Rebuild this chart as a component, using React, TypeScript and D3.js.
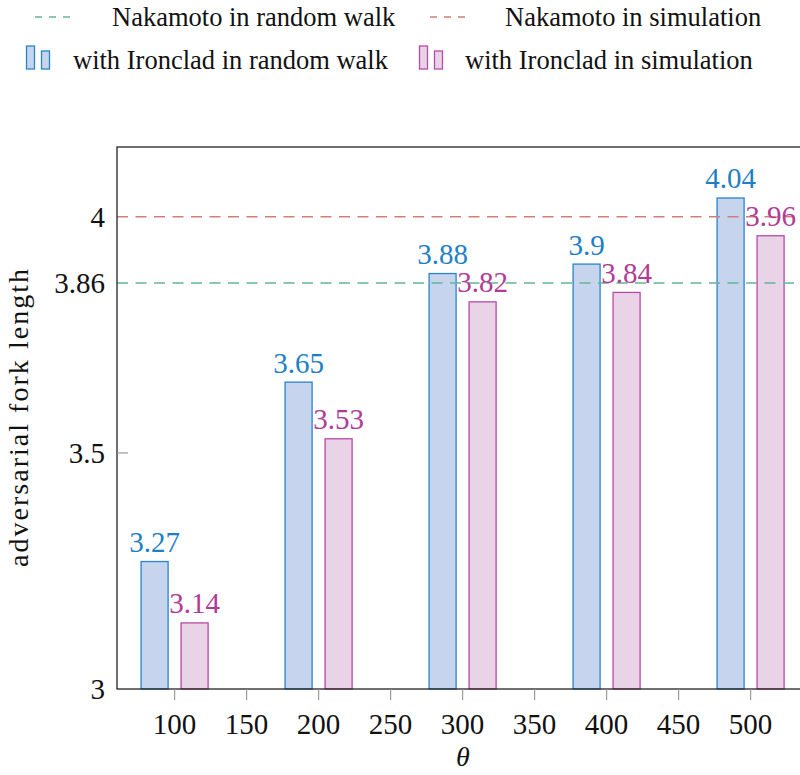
import React from "react";
import * as d3 from "d3";

const thetas = [100, 200, 300, 400, 500];
const randomWalk = [3.27, 3.65, 3.88, 3.9, 4.04];
const simulation = [3.14, 3.53, 3.82, 3.84, 3.96];
const nakamotoRandomWalk = 3.86;
const nakamotoSimulation = 4;
const xTicks = [100, 150, 200, 250, 300, 350, 400, 450, 500];
const yTicks = [3, 3.5, 3.86, 4];
const yTickLabels = ["3", "3.5", "3.86", "4"];

const FONT = "'Liberation Serif', 'DejaVu Serif', serif";
const BLUE_STROKE = "#2a84c8";
const BLUE_FILL = "#c6d4ed";
const BLUE_TEXT = "#1f7fc6";
const PINK_STROKE = "#b84aa8";
const PINK_FILL = "#e8d3e7";
const PINK_TEXT = "#b03c98";
const GREEN = "#63b795";
const RED = "#d17e76";

export default function App() {
  const W = 800, H = 775;
  const left = 117, top = 147, bottom = 689;
  const x = d3.scaleLinear().domain([60, 540]).range([left, left + 480 * 1.44]);
  const y = d3.scaleLinear().domain([3, 4.148]).range([bottom, top]);
  const barW = 27;
  const off = 20;
  const fs = 26.5;
  const numFs = 29;

  const series = [
    { vals: randomWalk, dx: -off, stroke: BLUE_STROKE, fill: BLUE_FILL, text: BLUE_TEXT },
    { vals: simulation, dx: off, stroke: PINK_STROKE, fill: PINK_FILL, text: PINK_TEXT },
  ];

  return (
    <svg width={W} height={H} style={{ position: "absolute", left: 0, top: 0 }} fontFamily={FONT}>
      <rect x={0} y={0} width={W} height={H} fill="white" />
      {series.map((s, si) =>
        s.vals.map((v, i) => (
          <rect
            key={`b${si}-${i}`}
            x={x(thetas[i]) + s.dx - barW / 2}
            y={y(v)}
            width={barW}
            height={y(3) - y(v)}
            fill={s.fill}
            stroke={s.stroke}
            strokeWidth={1.3}
          />
        ))
      )}
      <line x1={x(60)} x2={x(540)} y1={y(nakamotoRandomWalk)} y2={y(nakamotoRandomWalk)} stroke={GREEN} strokeWidth={1.5} strokeDasharray="11,7.5" />
      <line x1={x(60)} x2={x(540)} y1={y(nakamotoSimulation)} y2={y(nakamotoSimulation)} stroke={RED} strokeWidth={1.5} strokeDasharray="11,7.5" />
      {series.map((s, si) =>
        s.vals.map((v, i) => (
          <text
            key={`l${si}-${i}`}
            x={x(thetas[i]) + s.dx}
            y={y(v) - 9.5}
            textAnchor="middle"
            fontSize={numFs}
            fill={s.text}
          >
            {String(v)}
          </text>
        ))
      )}
      <rect x={left} y={top} width={480 * 1.44} height={bottom - top} fill="none" stroke="#222" strokeWidth={1.3} />
      {xTicks.map((t) => (
        <g key={`xt${t}`}>
          <line x1={x(t)} x2={x(t)} y1={bottom} y2={bottom + 11} stroke="#999" strokeWidth={1.2} />
          <text x={x(t)} y={734} textAnchor="middle" fontSize={numFs} fill="#111">{t}</text>
        </g>
      ))}
      {yTicks.map((t, i) => (
        <g key={`yt${t}`}>
          {t === 3.5 && <line x1={left} x2={left + 11} y1={y(t)} y2={y(t)} stroke="#999" strokeWidth={1.2} />}
          <text x={105} y={y(t) + 10} textAnchor="end" fontSize={numFs} fill="#111">{yTickLabels[i]}</text>
        </g>
      ))}
      <text x={463} y={766} textAnchor="middle" fontSize={28} fontStyle="italic" fill="#111">θ</text>
      <text transform={`translate(28, 418) rotate(-90)`} textAnchor="middle" fontSize={28} textLength={298} lengthAdjust="spacing" fill="#111">adversarial fork length</text>
      <line x1={35} x2={76} y1={17} y2={17} stroke={GREEN} strokeWidth={1.5} strokeDasharray="7,7" />
      <text x={112} y={26} fontSize={fs} fill="#111">Nakamoto in random walk</text>
      <line x1={430} x2={471} y1={17} y2={17} stroke={RED} strokeWidth={1.5} strokeDasharray="7,7" />
      <text x={505} y={26} fontSize={fs} fill="#111">Nakamoto in simulation</text>
      <rect x={26.5} y={46} width={8} height={23} fill={BLUE_FILL} stroke={BLUE_STROKE} strokeWidth={1.3} />
      <rect x={41.5} y={51} width={8} height={18} fill={BLUE_FILL} stroke={BLUE_STROKE} strokeWidth={1.3} />
      <text x={73} y={69} fontSize={fs} fill="#111">with Ironclad in random walk</text>
      <rect x={419.5} y={46} width={8} height={23} fill={PINK_FILL} stroke={PINK_STROKE} strokeWidth={1.3} />
      <rect x={434.5} y={51} width={8} height={18} fill={PINK_FILL} stroke={PINK_STROKE} strokeWidth={1.3} />
      <text x={465} y={69} fontSize={fs} fill="#111">with Ironclad in simulation</text>
    </svg>
  );
}
